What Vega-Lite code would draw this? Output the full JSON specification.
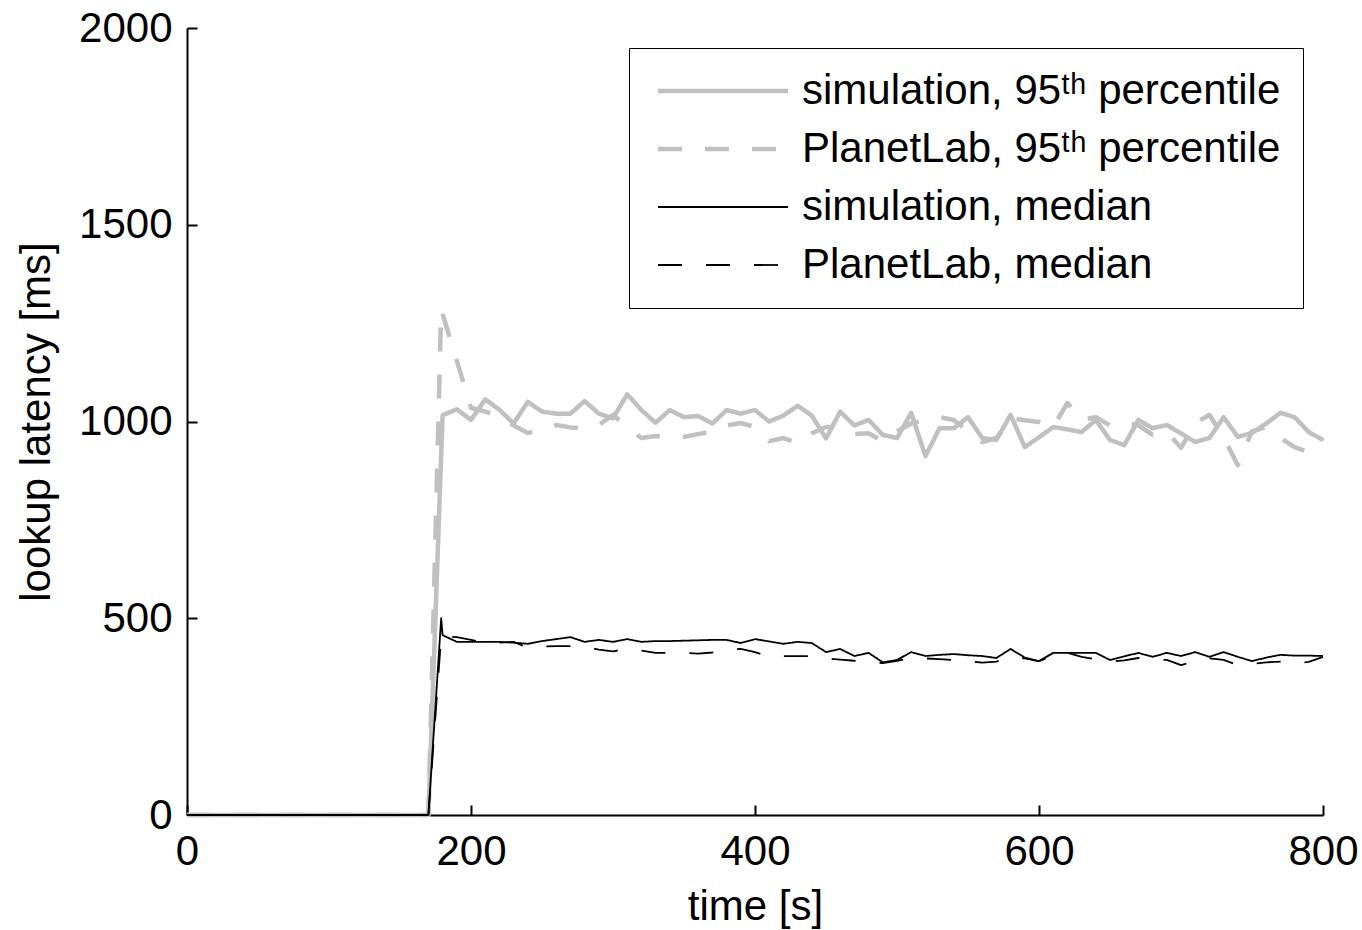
{
  "$schema": "https://vega.github.io/schema/vega-lite/v6.json",
  "autosize": {"type": "none"},
  "padding": {"left": 187, "top": 28, "right": 39, "bottom": 115},
  "width": 1136,
  "height": 787,
  "background": "white",
  "config": {
    "font": "Liberation Sans",
    "view": {"stroke": null},
    "axis": {
      "grid": false,
      "domainColor": "black",
      "domainWidth": 2,
      "tickColor": "black",
      "tickWidth": 2,
      "tickSize": -10,
      "labelFontSize": 42,
      "labelColor": "black",
      "labelFlush": false,
      "labelOverlap": false,
      "titleFontSize": 42,
      "titleFontWeight": "normal",
      "titleColor": "black"
    }
  },
  "data": {
    "values": [
      {"s":"A","t":0,"v":0},{"s":"A","t":170,"v":0},{"s":"A","t":180,"v":1016},{"s":"A","t":190,"v":1031},{"s":"A","t":200,"v":1004},{"s":"A","t":210,"v":1056},{"s":"A","t":220,"v":1030},{"s":"A","t":230,"v":995},{"s":"A","t":240,"v":1050},{"s":"A","t":250,"v":1025},{"s":"A","t":260,"v":1020},{"s":"A","t":270,"v":1020},{"s":"A","t":280,"v":1052},{"s":"A","t":290,"v":1020},{"s":"A","t":300,"v":1008},{"s":"A","t":310,"v":1069},{"s":"A","t":320,"v":1029},{"s":"A","t":330,"v":997},{"s":"A","t":340,"v":1029},{"s":"A","t":350,"v":1011},{"s":"A","t":360,"v":1014},{"s":"A","t":370,"v":995},{"s":"A","t":380,"v":1029},{"s":"A","t":390,"v":1020},{"s":"A","t":400,"v":1029},{"s":"A","t":410,"v":1000},{"s":"A","t":420,"v":1015},{"s":"A","t":430,"v":1040},{"s":"A","t":440,"v":1015},{"s":"A","t":450,"v":957},{"s":"A","t":460,"v":1025},{"s":"A","t":470,"v":990},{"s":"A","t":480,"v":1004},{"s":"A","t":490,"v":966},{"s":"A","t":500,"v":958},{"s":"A","t":510,"v":1022},{"s":"A","t":520,"v":912},{"s":"A","t":530,"v":983},{"s":"A","t":540,"v":983},{"s":"A","t":550,"v":1011},{"s":"A","t":560,"v":958},{"s":"A","t":570,"v":953},{"s":"A","t":580,"v":1017},{"s":"A","t":590,"v":935},{"s":"A","t":600,"v":960},{"s":"A","t":610,"v":986},{"s":"A","t":620,"v":980},{"s":"A","t":630,"v":973},{"s":"A","t":640,"v":1004},{"s":"A","t":650,"v":953},{"s":"A","t":660,"v":940},{"s":"A","t":670,"v":1004},{"s":"A","t":680,"v":983},{"s":"A","t":690,"v":991},{"s":"A","t":700,"v":970},{"s":"A","t":710,"v":948},{"s":"A","t":720,"v":958},{"s":"A","t":730,"v":1011},{"s":"A","t":740,"v":961},{"s":"A","t":750,"v":971},{"s":"A","t":760,"v":995},{"s":"A","t":770,"v":1022},{"s":"A","t":780,"v":1011},{"s":"A","t":790,"v":973},{"s":"A","t":800,"v":953},
      {"s":"B","t":0,"v":0},{"s":"B","t":170,"v":0},{"s":"B","t":179,"v":1285},{"s":"B","t":200,"v":1035},{"s":"B","t":210,"v":1025},{"s":"B","t":220,"v":1012},{"s":"B","t":230,"v":990},{"s":"B","t":240,"v":971},{"s":"B","t":250,"v":978},{"s":"B","t":260,"v":991},{"s":"B","t":270,"v":985},{"s":"B","t":280,"v":983},{"s":"B","t":290,"v":991},{"s":"B","t":300,"v":1017},{"s":"B","t":310,"v":985},{"s":"B","t":320,"v":958},{"s":"B","t":330,"v":963},{"s":"B","t":340,"v":962},{"s":"B","t":350,"v":961},{"s":"B","t":360,"v":968},{"s":"B","t":370,"v":975},{"s":"B","t":380,"v":990},{"s":"B","t":390,"v":996},{"s":"B","t":400,"v":986},{"s":"B","t":410,"v":950},{"s":"B","t":420,"v":958},{"s":"B","t":430,"v":945},{"s":"B","t":440,"v":970},{"s":"B","t":450,"v":986},{"s":"B","t":460,"v":986},{"s":"B","t":470,"v":968},{"s":"B","t":480,"v":970},{"s":"B","t":490,"v":950},{"s":"B","t":500,"v":975},{"s":"B","t":510,"v":995},{"s":"B","t":520,"v":1005},{"s":"B","t":530,"v":1011},{"s":"B","t":540,"v":1004},{"s":"B","t":550,"v":975},{"s":"B","t":560,"v":948},{"s":"B","t":570,"v":958},{"s":"B","t":580,"v":1009},{"s":"B","t":590,"v":1003},{"s":"B","t":600,"v":999},{"s":"B","t":610,"v":986},{"s":"B","t":620,"v":1047},{"s":"B","t":630,"v":1004},{"s":"B","t":640,"v":1011},{"s":"B","t":650,"v":990},{"s":"B","t":660,"v":998},{"s":"B","t":670,"v":990},{"s":"B","t":680,"v":966},{"s":"B","t":690,"v":973},{"s":"B","t":700,"v":933},{"s":"B","t":710,"v":996},{"s":"B","t":720,"v":1017},{"s":"B","t":730,"v":960},{"s":"B","t":740,"v":889},{"s":"B","t":750,"v":975},{"s":"B","t":760,"v":986},{"s":"B","t":770,"v":958},{"s":"B","t":780,"v":935},{"s":"B","t":790,"v":922},{"s":"B","t":800,"v":958},
      {"s":"C","t":0,"v":0},{"s":"C","t":170,"v":0},{"s":"C","t":179,"v":500},{"s":"C","t":180,"v":457},{"s":"C","t":190,"v":440},{"s":"C","t":200,"v":440},{"s":"C","t":210,"v":440},{"s":"C","t":220,"v":440},{"s":"C","t":230,"v":438},{"s":"C","t":240,"v":435},{"s":"C","t":250,"v":442},{"s":"C","t":260,"v":447},{"s":"C","t":270,"v":452},{"s":"C","t":280,"v":440},{"s":"C","t":290,"v":445},{"s":"C","t":300,"v":440},{"s":"C","t":310,"v":447},{"s":"C","t":320,"v":440},{"s":"C","t":330,"v":442},{"s":"C","t":340,"v":442},{"s":"C","t":350,"v":443},{"s":"C","t":360,"v":444},{"s":"C","t":370,"v":445},{"s":"C","t":380,"v":445},{"s":"C","t":390,"v":437},{"s":"C","t":400,"v":447},{"s":"C","t":410,"v":441},{"s":"C","t":420,"v":435},{"s":"C","t":430,"v":440},{"s":"C","t":440,"v":437},{"s":"C","t":450,"v":414},{"s":"C","t":460,"v":422},{"s":"C","t":470,"v":404},{"s":"C","t":480,"v":412},{"s":"C","t":490,"v":388},{"s":"C","t":500,"v":394},{"s":"C","t":510,"v":414},{"s":"C","t":520,"v":404},{"s":"C","t":530,"v":407},{"s":"C","t":540,"v":409},{"s":"C","t":550,"v":406},{"s":"C","t":560,"v":404},{"s":"C","t":570,"v":399},{"s":"C","t":580,"v":422},{"s":"C","t":590,"v":400},{"s":"C","t":600,"v":391},{"s":"C","t":610,"v":412},{"s":"C","t":620,"v":412},{"s":"C","t":630,"v":412},{"s":"C","t":640,"v":412},{"s":"C","t":650,"v":394},{"s":"C","t":660,"v":403},{"s":"C","t":670,"v":412},{"s":"C","t":680,"v":402},{"s":"C","t":690,"v":412},{"s":"C","t":700,"v":404},{"s":"C","t":710,"v":414},{"s":"C","t":720,"v":402},{"s":"C","t":730,"v":414},{"s":"C","t":740,"v":402},{"s":"C","t":750,"v":391},{"s":"C","t":760,"v":400},{"s":"C","t":770,"v":407},{"s":"C","t":780,"v":405},{"s":"C","t":790,"v":405},{"s":"C","t":800,"v":404},
      {"s":"D","t":0,"v":0},{"s":"D","t":170,"v":0},{"s":"D","t":179,"v":455},{"s":"D","t":190,"v":452},{"s":"D","t":200,"v":445},{"s":"D","t":210,"v":437},{"s":"D","t":220,"v":438},{"s":"D","t":230,"v":440},{"s":"D","t":240,"v":425},{"s":"D","t":250,"v":428},{"s":"D","t":260,"v":429},{"s":"D","t":270,"v":429},{"s":"D","t":280,"v":429},{"s":"D","t":290,"v":420},{"s":"D","t":300,"v":416},{"s":"D","t":310,"v":422},{"s":"D","t":320,"v":418},{"s":"D","t":330,"v":412},{"s":"D","t":340,"v":412},{"s":"D","t":350,"v":412},{"s":"D","t":360,"v":410},{"s":"D","t":370,"v":413},{"s":"D","t":380,"v":420},{"s":"D","t":390,"v":422},{"s":"D","t":400,"v":414},{"s":"D","t":410,"v":402},{"s":"D","t":420,"v":404},{"s":"D","t":430,"v":404},{"s":"D","t":440,"v":404},{"s":"D","t":450,"v":398},{"s":"D","t":460,"v":395},{"s":"D","t":470,"v":392},{"s":"D","t":480,"v":390},{"s":"D","t":490,"v":386},{"s":"D","t":500,"v":392},{"s":"D","t":510,"v":399},{"s":"D","t":520,"v":398},{"s":"D","t":530,"v":396},{"s":"D","t":540,"v":394},{"s":"D","t":550,"v":391},{"s":"D","t":560,"v":387},{"s":"D","t":570,"v":390},{"s":"D","t":580,"v":400},{"s":"D","t":590,"v":398},{"s":"D","t":600,"v":391},{"s":"D","t":610,"v":405},{"s":"D","t":620,"v":412},{"s":"D","t":630,"v":402},{"s":"D","t":640,"v":396},{"s":"D","t":650,"v":390},{"s":"D","t":660,"v":393},{"s":"D","t":670,"v":399},{"s":"D","t":680,"v":396},{"s":"D","t":690,"v":394},{"s":"D","t":700,"v":381},{"s":"D","t":710,"v":390},{"s":"D","t":720,"v":398},{"s":"D","t":730,"v":394},{"s":"D","t":740,"v":381},{"s":"D","t":750,"v":384},{"s":"D","t":760,"v":388},{"s":"D","t":770,"v":390},{"s":"D","t":780,"v":386},{"s":"D","t":790,"v":389},{"s":"D","t":800,"v":402}
    ]
  },
  "mark": {"type": "line", "strokeCap": "butt", "strokeJoin": "round"},
  "encoding": {
    "x": {
      "field": "t", "type": "quantitative",
      "scale": {"domain": [0, 800], "nice": false, "zero": false},
      "axis": {"values": [0, 200, 400, 600, 800], "format": "d", "title": "time [s]", "labelPadding": 26, "titlePadding": 14}
    },
    "y": {
      "field": "v", "type": "quantitative",
      "scale": {"domain": [0, 2000], "nice": false},
      "axis": {"values": [0, 500, 1000, 1500, 2000], "format": "d", "title": "lookup latency [ms]", "labelPadding": 25, "titlePadding": 20}
    },
    "color": {
      "field": "s", "type": "nominal",
      "scale": {"domain": ["A", "B", "C", "D"], "range": ["#c0c0c0", "#c0c0c0", "#000000", "#000000"]},
      "legend": {
        "title": null,
        "orient": "top-right",
        "offset": 20,
        "symbolType": "stroke",
        "symbolSize": 16900,
        "symbolOffset": 51,
        "labelFontSize": 42,
        "labelColor": "black",
        "labelLimit": 0,
        "labelOffset": 58,
        "rowPadding": 16,
        "padding": 22,
        "strokeColor": "black",
        "fillColor": "white",
        "labelExpr": "datum.value === 'A' ? 'simulation, 95ᵗʰ percentile' : datum.value === 'B' ? 'PlanetLab, 95ᵗʰ percentile' : datum.value === 'C' ? 'simulation, median' : 'PlanetLab, median'",
        "encode": {"symbols": {"update": {"strokeWidth": {"signal": "datum.value === 'A' || datum.value === 'B' ? 4.5 : 1.8"}}}}
      }
    },
    "strokeDash": {
      "field": "s", "type": "nominal",
      "scale": {"domain": ["A", "B", "C", "D"], "range": [[1, 0], [24, 23], [1, 0], [24, 24]]}
    },
    "strokeWidth": {
      "condition": {"test": "datum.s === 'A' || datum.s === 'B'", "value": 4.5},
      "value": 1.8
    }
  }
}
